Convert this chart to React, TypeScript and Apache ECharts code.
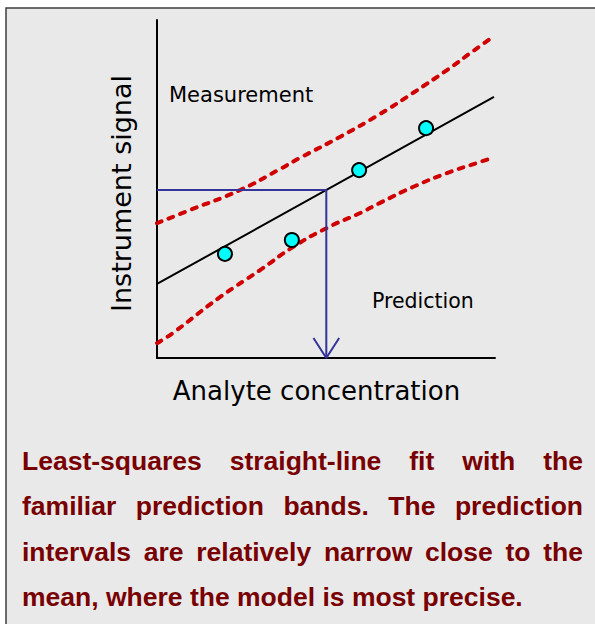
import React, { useEffect, useRef } from "react";
import * as echarts from "echarts";

// ---- data (axis units 0..10) ----
const fitIntercept = 2.19;
const fitSlope = 0.555;
const fitRange = [0, 9.97];
const pointsX = [2.01, 3.99, 5.98, 7.96];
const pointsY = [3.08, 3.49, 5.56, 6.8];
const upperBandX = [0, 0.98, 2.46, 3.64, 4.23, 5.41, 6.6, 7.57, 8.58, 9.35, 9.94];
const upperBandY = [3.99, 4.38, 4.97, 5.59, 5.92, 6.54, 7.22, 7.84, 8.52, 9.08, 9.5];
const lowerBandX = [0, 0.47, 1.86, 3.05, 4.02, 5.03, 6.01, 6.6, 7.57, 8.58, 9.56, 9.94];
const lowerBandY = [0.44, 0.74, 1.8, 2.6, 3.28, 3.85, 4.29, 4.59, 5.06, 5.47, 5.8, 5.92];
const measuredSignal = 4.97;
const captionLines = [
  "Least-squares straight-line fit with the",
  "familiar prediction bands. The prediction",
  "intervals are relatively narrow close to the",
  "mean, where the model is most precise.",
];

const zip = (xs: number[], ys: number[]) => xs.map((x, i) => [x, ys[i]]);

export default function App() {
  const ref = useRef<HTMLDivElement>(null);
  useEffect(() => {
    document.body.style.margin = "0";
    if (!ref.current) return;
    const chart = echarts.init(ref.current, null, { renderer: "svg" });

    const predictedX = (measuredSignal - fitIntercept) / fitSlope;

    // justified caption
    const capFont = 26.5;
    const capFamily = "'Liberation Sans', Arial, sans-serif";
    const canvas = document.createElement("canvas");
    const ctx = canvas.getContext("2d")!;
    ctx.font = `bold ${capFont}px ${capFamily}`;
    const left = 22;
    const right = 583;
    const lineY0 = 460.5;
    const lineStep = 45.6;
    const captionEls: any[] = [];
    captionLines.forEach((line, li) => {
      const words = line.split(" ");
      const widths = words.map((w) => ctx.measureText(w).width);
      const total = widths.reduce((a, b) => a + b, 0);
      const last = li === captionLines.length - 1;
      const gap = last ? ctx.measureText(" ").width : (right - left - total) / (words.length - 1);
      let x = left;
      words.forEach((w, wi) => {
        captionEls.push({
          type: "text",
          x,
          y: lineY0 + li * lineStep,
          style: {
            text: w,
            fontSize: capFont,
            fontWeight: "bold",
            fontFamily: capFamily,
            fill: "#780000",
            align: "left",
            verticalAlign: "middle",
            textAlign: "left",
            textVerticalAlign: "middle",
          },
        });
        x += widths[wi] + gap;
      });
    });

    const plotFont = "'DejaVu Sans', Verdana, sans-serif";

    chart.setOption({
      animation: false,
      backgroundColor: "#ffffff",
      grid: { left: 157, top: 20, width: 338, height: 338 },
      xAxis: {
        type: "value",
        min: 0,
        max: 10,
        axisLine: { show: true, onZero: false, lineStyle: { color: "#000", width: 2 } },
        axisTick: { show: false },
        axisLabel: { show: false },
        splitLine: { show: false },
        name: "Analyte concentration",
        nameLocation: "middle",
        nameGap: 20,
        nameTextStyle: { fontFamily: plotFont, fontSize: 26, color: "#000", padding: [0, 19, 0, 0] },
      },
      yAxis: {
        type: "value",
        min: 0,
        max: 10,
        axisLine: { show: true, onZero: false, lineStyle: { color: "#000", width: 2 } },
        axisTick: { show: false },
        axisLabel: { show: false },
        splitLine: { show: false },
        name: "Instrument signal",
        nameLocation: "middle",
        nameGap: 22,
        nameTextStyle: { fontFamily: plotFont, fontSize: 27, color: "#000", padding: [0, 9, 0, 0] },
      },
      graphic: [
        {
          type: "rect",
          z: -10,
          silent: true,
          shape: { x: 6, y: 8, width: 620, height: 640 },
          style: { fill: "#e9e9e9", stroke: "#3c3c3c", lineWidth: 1.5 },
        },
        {
          type: "text",
          x: 169,
          y: 95,
          style: {
            text: "Measurement",
            fontSize: 21,
            fontFamily: plotFont,
            fill: "#000",
            align: "left",
            verticalAlign: "middle",
            textAlign: "left",
            textVerticalAlign: "middle",
          },
        },
        {
          type: "text",
          x: 372,
          y: 300.5,
          style: {
            text: "Prediction",
            fontSize: 20.5,
            fontFamily: plotFont,
            fill: "#000",
            align: "left",
            verticalAlign: "middle",
            textAlign: "left",
            textVerticalAlign: "middle",
          },
        },
        ...captionEls,
      ],
      series: [
        {
          type: "line",
          data: zip(upperBandX, upperBandY),
          smooth: true,
          symbol: "none",
          clip: false,
          lineStyle: { color: "#d10000", width: 4, type: [5, 7.5], cap: "round" },
        },
        {
          type: "line",
          data: zip(lowerBandX, lowerBandY),
          smooth: true,
          symbol: "none",
          clip: false,
          lineStyle: { color: "#d10000", width: 4, type: [5, 7.5], cap: "round" },
        },
        {
          type: "line",
          data: fitRange.map((x) => [x, fitIntercept + fitSlope * x]),
          symbol: "none",
          clip: false,
          lineStyle: { color: "#000", width: 2 },
        },
        {
          type: "line",
          data: [
            [0, measuredSignal],
            [predictedX, measuredSignal],
            [predictedX, 0],
          ],
          symbol: "none",
          clip: false,
          lineStyle: { color: "#333399", width: 2 },
        },
        {
          type: "line",
          data: [
            [predictedX - 0.38, 0.59],
            [predictedX, 0],
            [predictedX + 0.38, 0.59],
          ],
          symbol: "none",
          clip: false,
          lineStyle: { color: "#333399", width: 2 },
        },
        {
          type: "scatter",
          data: zip(pointsX, pointsY),
          symbolSize: 14,
          z: 10,
          itemStyle: { color: "#00ffff", borderColor: "#000", borderWidth: 2, opacity: 1 },
        },
      ],
    });
    return () => chart.dispose();
  }, []);
  return <div ref={ref} style={{ width: 595, height: 624 }} />;
}
